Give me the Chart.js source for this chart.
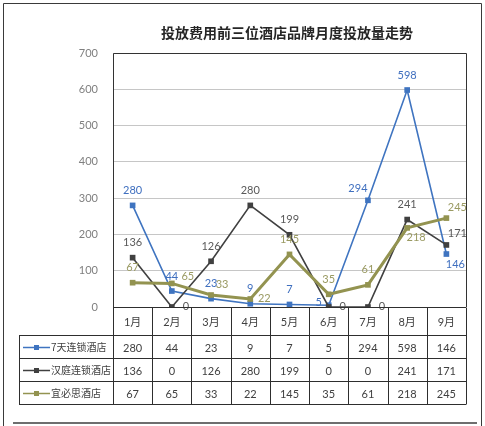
<!DOCTYPE html>
<html>
<head>
<meta charset="utf-8">
<script src="https://cdn.jsdelivr.net/npm/chart.js@4.4.1/dist/chart.umd.min.js"></script>
<style>
  html, body { margin: 0; padding: 0; background: #fff; }
</style>
</head>
<body>
<canvas id="trend" width="485" height="426"></canvas>
<script>
const months = ["1月", "2月", "3月", "4月", "5月", "6月", "7月", "8月", "9月"];
const seriesNames = ["7天连锁酒店", "汉庭连锁酒店", "宜必思酒店"];
const sevenDays = [280, 44, 23, 9, 7, 5, 294, 598, 146];
const hanting = [136, 0, 126, 280, 199, 0, 0, 241, 171];
const ibis = [67, 65, 33, 22, 145, 35, 61, 218, 245];
const yTicks = [0, 100, 200, 300, 400, 500, 600, 700];

const titleText = "投放费用前三位酒店品牌月度投放量走势";
const colors = ["#3f74c0", "#404040", "#939350"];
const labelColors = ["#3f6fbf", "#595959", "#9a9a62"];

// where each value label sits relative to its point
const labelPos = [
  ["t", "t", "t", "t", "t", "l", "tl", "t", "br"],
  ["t", "r", "t", "t", "t", "r", "r", "t", "tr"],
  ["t", "rt", "tr", "r", "t", "t", "t", "br", "tr"],
];
const offsets = {
  t: [0, -15], b: [0, 14], r: [14, -1], rt: [16, -7], l: [-10, -3],
  tr: [11, -11], tl: [-10, -12], br: [9, 10],
};

const numFont = "Lato, 'Noto Sans', sans-serif";
const cjkFont = "'Noto Sans CJK SC', sans-serif";

const valueLabels = {
  id: "valueLabels",
  afterDatasetsDraw(chart) {
    const ctx = chart.ctx;
    ctx.save();
    ctx.font = "11px " + numFont;
    ctx.textAlign = "center";
    ctx.textBaseline = "middle";
    chart.data.datasets.forEach((ds, di) => {
      chart.getDatasetMeta(di).data.forEach((pt, i) => {
        const o = offsets[labelPos[di][i]];
        ctx.fillStyle = labelColors[di];
        ctx.fillText(String(ds.data[i]), pt.x + o[0], pt.y + o[1]);
      });
    });
    ctx.restore();
  },
};

const frameAndTable = {
  id: "frameAndTable",
  afterDraw(chart) {
    const ctx = chart.ctx;
    const area = chart.chartArea;
    const xs = chart.scales.x;
    const cellW = (area.right - area.left) / months.length;
    const rowH = [28, 23, 23, 23];
    const tableLeft = 19;
    ctx.save();

    // title
    ctx.fillStyle = "#262626";
    ctx.font = "bold 14px " + cjkFont;
    ctx.textAlign = "center";
    ctx.textBaseline = "middle";
    ctx.fillText(titleText, 287, 33);

    // plot frame
    ctx.strokeStyle = "#333";
    ctx.lineWidth = 1;
    ctx.beginPath();
    ctx.moveTo(Math.round(area.left) + 0.5, area.bottom);
    ctx.lineTo(Math.round(area.left) + 0.5, Math.round(area.top) + 0.5);
    ctx.lineTo(Math.round(area.right) + 0.5, Math.round(area.top) + 0.5);
    ctx.lineTo(Math.round(area.right) + 0.5, area.bottom);
    ctx.stroke();

    // table grid
    const y0 = Math.round(area.bottom) + 0.5;
    const ys = [y0];
    rowH.forEach((h) => ys.push(ys[ys.length - 1] + h));
    const yEnd = ys[ys.length - 1];
    ctx.strokeStyle = "#2e2e2e";
    ctx.beginPath();
    ctx.moveTo(area.left, y0);
    ctx.lineTo(area.right, y0);
    for (let r = 1; r < ys.length; r++) {
      ctx.moveTo(tableLeft, ys[r]);
      ctx.lineTo(area.right, ys[r]);
    }
    ctx.moveTo(tableLeft + 0.5, ys[1]);
    ctx.lineTo(tableLeft + 0.5, yEnd);
    for (let c = 0; c <= months.length; c++) {
      const x = Math.round(area.left + c * cellW) + 0.5;
      ctx.moveTo(x, y0);
      ctx.lineTo(x, yEnd);
    }
    ctx.stroke();

    // header months
    ctx.fillStyle = "#404040";
    ctx.font = "11px " + numFont + ", " + cjkFont;
    ctx.textAlign = "center";
    ctx.textBaseline = "middle";
    months.forEach((m, i) => {
      ctx.fillText(m, xs.getPixelForValue(i), (ys[0] + ys[1]) / 2 + 1);
    });

    // data rows
    const rows = [sevenDays, hanting, ibis];
    rows.forEach((vals, r) => {
      const cy = (ys[r + 1] + ys[r + 2]) / 2 + 1;
      ctx.fillStyle = "#404040";
      ctx.font = "11px " + numFont;
      ctx.textAlign = "center";
      vals.forEach((v, i) => ctx.fillText(String(v), xs.getPixelForValue(i), cy));

      // legend key
      const ky = Math.round(cy - 1) + 0.5;
      ctx.strokeStyle = colors[r];
      ctx.lineWidth = 1.5;
      ctx.beginPath();
      ctx.moveTo(23, ky);
      ctx.lineTo(50, ky);
      ctx.stroke();
      ctx.fillStyle = colors[r];
      ctx.fillRect(34, ky - 2.5, 5, 5);
      ctx.fillStyle = "#404040";
      ctx.font = "10px " + cjkFont;
      ctx.textAlign = "left";
      ctx.fillText(seriesNames[r], 51, cy - 1);
    });

    // outer frame
    ctx.strokeStyle = "#3a3a3a";
    ctx.lineWidth = 1;
    ctx.beginPath();
    ctx.moveTo(3.5, 426);
    ctx.lineTo(3.5, 3.5);
    ctx.lineTo(481.5, 3.5);
    ctx.lineTo(481.5, 426);
    ctx.stroke();
    ctx.strokeStyle = "#6e6e6e";
    ctx.lineWidth = 2;
    ctx.beginPath();
    ctx.moveTo(13, 423);
    ctx.lineTo(477, 423);
    ctx.stroke();
    ctx.restore();
  },
};

const pointStyle = (c, w) => ({
  borderColor: c,
  backgroundColor: c,
  borderWidth: w,
  pointStyle: "rect",
  pointRadius: 4,
  pointBorderWidth: 0,
  pointBackgroundColor: c,
  tension: 0,
});

new Chart(document.getElementById("trend"), {
  type: "line",
  data: {
    labels: months,
    datasets: [
      { label: seriesNames[0], data: sevenDays, ...pointStyle(colors[0], 1.6), order: 3 },
      { label: seriesNames[1], data: hanting, ...pointStyle(colors[1], 1.6), order: 2 },
      { label: seriesNames[2], data: ibis, ...pointStyle(colors[2], 3), order: 1 },
    ],
  },
  options: {
    responsive: false,
    animation: false,
    layout: { padding: { top: 53, right: 19, bottom: 119, left: 0 } },
    plugins: {
      legend: { display: false },
      tooltip: { enabled: false },
    },
    scales: {
      x: {
        display: false,
        offset: true,
      },
      y: {
        min: 0,
        max: 700,
        afterFit: (s) => { s.width = 113; },
        afterBuildTicks: (s) => { s.ticks = yTicks.map((v) => ({ value: v })); },
        border: { display: false },
        grid: { color: "#c6c6c6", lineWidth: 1, drawTicks: false },
        ticks: {
          padding: 15,
          color: "#7f7f7f",
          font: { family: numFont, size: 11 },
        },
      },
    },
  },
  plugins: [valueLabels, frameAndTable],
});
</script>
</body>
</html>
